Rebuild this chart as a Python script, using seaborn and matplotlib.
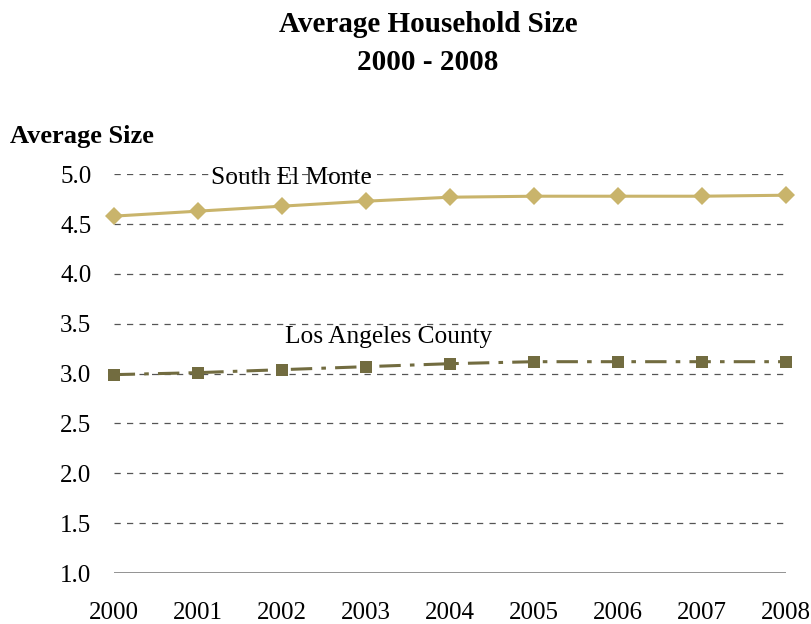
import matplotlib
matplotlib.use("Agg")
import matplotlib.pyplot as plt
import seaborn as sns
import pandas as pd

years = [2000, 2001, 2002, 2003, 2004, 2005, 2006, 2007, 2008]
south_el_monte = [4.58, 4.63, 4.68, 4.73, 4.77, 4.78, 4.78, 4.78, 4.79]
la_county = [2.99, 3.01, 3.04, 3.07, 3.10, 3.12, 3.12, 3.12, 3.12]
yticks = [1.0, 1.5, 2.0, 2.5, 3.0, 3.5, 4.0, 4.5, 5.0]

sns.set_theme(style="white")
plt.rcParams['font.family'] = ['Liberation Serif', 'DejaVu Serif']
plt.rcParams['text.color'] = 'black'

df_sem = pd.DataFrame({"Year": years, "Size": south_el_monte})
df_la = pd.DataFrame({"Year": years, "Size": la_county})

fig = plt.figure(figsize=(8.12, 6.24), dpi=100)
ax = fig.add_axes([0.140, 0.0817, 0.828, 0.639])

for y in yticks[1:]:
    ax.axhline(y, color="#555555", lw=0.9, ls=(0, (5, 5)), zorder=0)
ax.axhline(1.0, color="#808080", lw=1.2, zorder=0)

sns.lineplot(data=df_sem, x="Year", y="Size", ax=ax, color="#C9B46B",
             lw=2.2, marker="D", markersize=9, markeredgewidth=0, clip_on=False)
sns.lineplot(data=df_la, x="Year", y="Size", ax=ax, color="#726C40",
             lw=2.2, marker="s", markersize=8.5, markeredgewidth=0, clip_on=False)
ax.lines[-1].set_linestyle((0, (7, 3, 1.5, 3)))

ax.set_xlim(2000, 2008)
ax.set_ylim(1.0, 5.0)
ax.set_xticks(years)
ax.set_xticklabels([str(y) for y in years])
ax.set_yticks(yticks)
ax.set_yticklabels([f"{v:.1f}" for v in yticks])
ax.tick_params(axis="both", labelsize=18, length=0, colors="black")
ax.tick_params(axis="x", pad=21)
ax.tick_params(axis="y", pad=16)
ax.set_xlabel("")
ax.set_ylabel("")
for s in ax.spines.values():
    s.set_visible(False)

ax.text(2002.12, 4.96, "South El Monte", fontsize=18.3, ha="center", va="center", color="black")
ax.text(2003.27, 3.37, "Los Angeles County", fontsize=18.3, ha="center", va="center", color="black")

fig.text(0.527, 1 - 24/624, "Average Household Size", fontsize=21, fontweight="bold",
         ha="center", va="center", color="black")
fig.text(0.527, 1 - 63/624, "2000 - 2008", fontsize=21, fontweight="bold",
         ha="center", va="center", color="black")
fig.text(0.012, 1 - 136/624, "Average Size", fontsize=19, fontweight="bold",
         ha="left", va="center", color="black")

fig.savefig("out.png", dpi=100)
